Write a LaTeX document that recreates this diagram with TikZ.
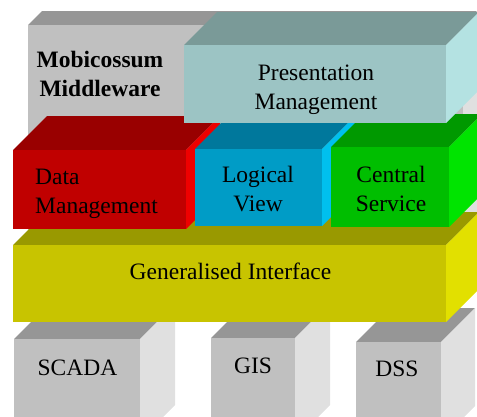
\documentclass[tikz,border=0pt]{standalone}
\usepackage{fontspec}
\setmainfont{Liberation Serif}
\definecolor{grF}{HTML}{C0C0C0}\definecolor{grT}{HTML}{969696}\definecolor{grS}{HTML}{E0E0E0}
\definecolor{tlF}{HTML}{9CC4C4}\definecolor{tlT}{HTML}{7A9A98}\definecolor{tlS}{HTML}{B4E2E2}
\definecolor{rdF}{HTML}{C00000}\definecolor{rdT}{HTML}{990000}\definecolor{rdS}{HTML}{EE0000}
\definecolor{blF}{HTML}{009CC6}\definecolor{blT}{HTML}{00789C}\definecolor{blS}{HTML}{00C0EE}
\definecolor{gnF}{HTML}{00BE00}\definecolor{gnT}{HTML}{009900}\definecolor{gnS}{HTML}{00E400}
\definecolor{ylF}{HTML}{C8C400}\definecolor{ylT}{HTML}{999900}\definecolor{ylS}{HTML}{E2E000}
% #1 name, #2 x1, #3 y1, #4 x2, #5 y2, #6 depth, #7 front, #8 top, #9 side
\newcommand\slabbox[9]{%
  \fill[#8] (#2,#3) -- ({#2+#6},{#3-#6}) -- ({#4+#6},{#3-#6}) -- (#4,#3) -- cycle;
  \fill[#9] (#4,#3) -- ({#4+#6},{#3-#6}) -- ({#4+#6},{#5-#6}) -- (#4,#5) -- cycle;
  \node[fill=#7, inner sep=0, outer sep=0, minimum width={#4-#2}, minimum height={#5-#3}, anchor=north west] (#1) at (#2,#3) {};
}
\tikzset{lbl/.style={font=\fontsize{23.5}{29}\selectfont, align=center, inner sep=0, text=black}}
\begin{document}
\begin{tikzpicture}[x=1pt,y=-1pt]
\useasboundingbox (0,0) rectangle (477,416);
\clip (0,0) rectangle (477,416);
% background middleware box
\slabbox{mob}{28}{25}{463}{240}{14}{grF}{grT}{grS}
% bottom systems
\slabbox{scada}{14}{339}{140}{440}{35}{grF}{grT}{grS}
\slabbox{gis}{211}{338}{295}{440}{35}{grF}{grT}{grS}
\slabbox{dss}{356}{342}{441}{440}{34}{grF}{grT}{grS}
% generalised interface
\slabbox{gen}{13}{245}{446}{322}{33}{ylF}{ylT}{ylS}
% middle layer
\slabbox{data}{13}{150}{186}{229}{34}{rdF}{rdT}{rdS}
\slabbox{logic}{195}{149}{322}{226}{34}{blF}{blT}{blS}
\slabbox{central}{331}{147}{449}{227}{33}{gnF}{gnT}{gnS}
% presentation
\slabbox{pres}{184}{45}{446}{123}{33}{tlF}{tlT}{tlS}
% labels (base anchor = baseline of last line)
\node[lbl, font=\fontsize{23.5}{29}\selectfont\bfseries, anchor=base] (tmob) at (100,96) {Mobicossum\\Middleware};
\node[lbl, anchor=base] (tpres) at (316,109) {Presentation\\Management};
\node[lbl, align=left, anchor=base west] (tdata) at (35,213) {Data\\Management};
\node[lbl, anchor=base] (tlogic) at (258,211) {Logical\\View};
\node[lbl, anchor=base] (tcentral) at (391,211) {Central\\Service};
\node[lbl, anchor=base] (tgen) at (230.5,279) {Generalised Interface};
\node[lbl, anchor=base] (tscada) at (77.5,375) {SCADA};
\node[lbl, anchor=base] (tgis) at (253,373) {GIS};
\node[lbl, anchor=base] (tdss) at (397,376) {DSS};
\end{tikzpicture}
\end{document}
